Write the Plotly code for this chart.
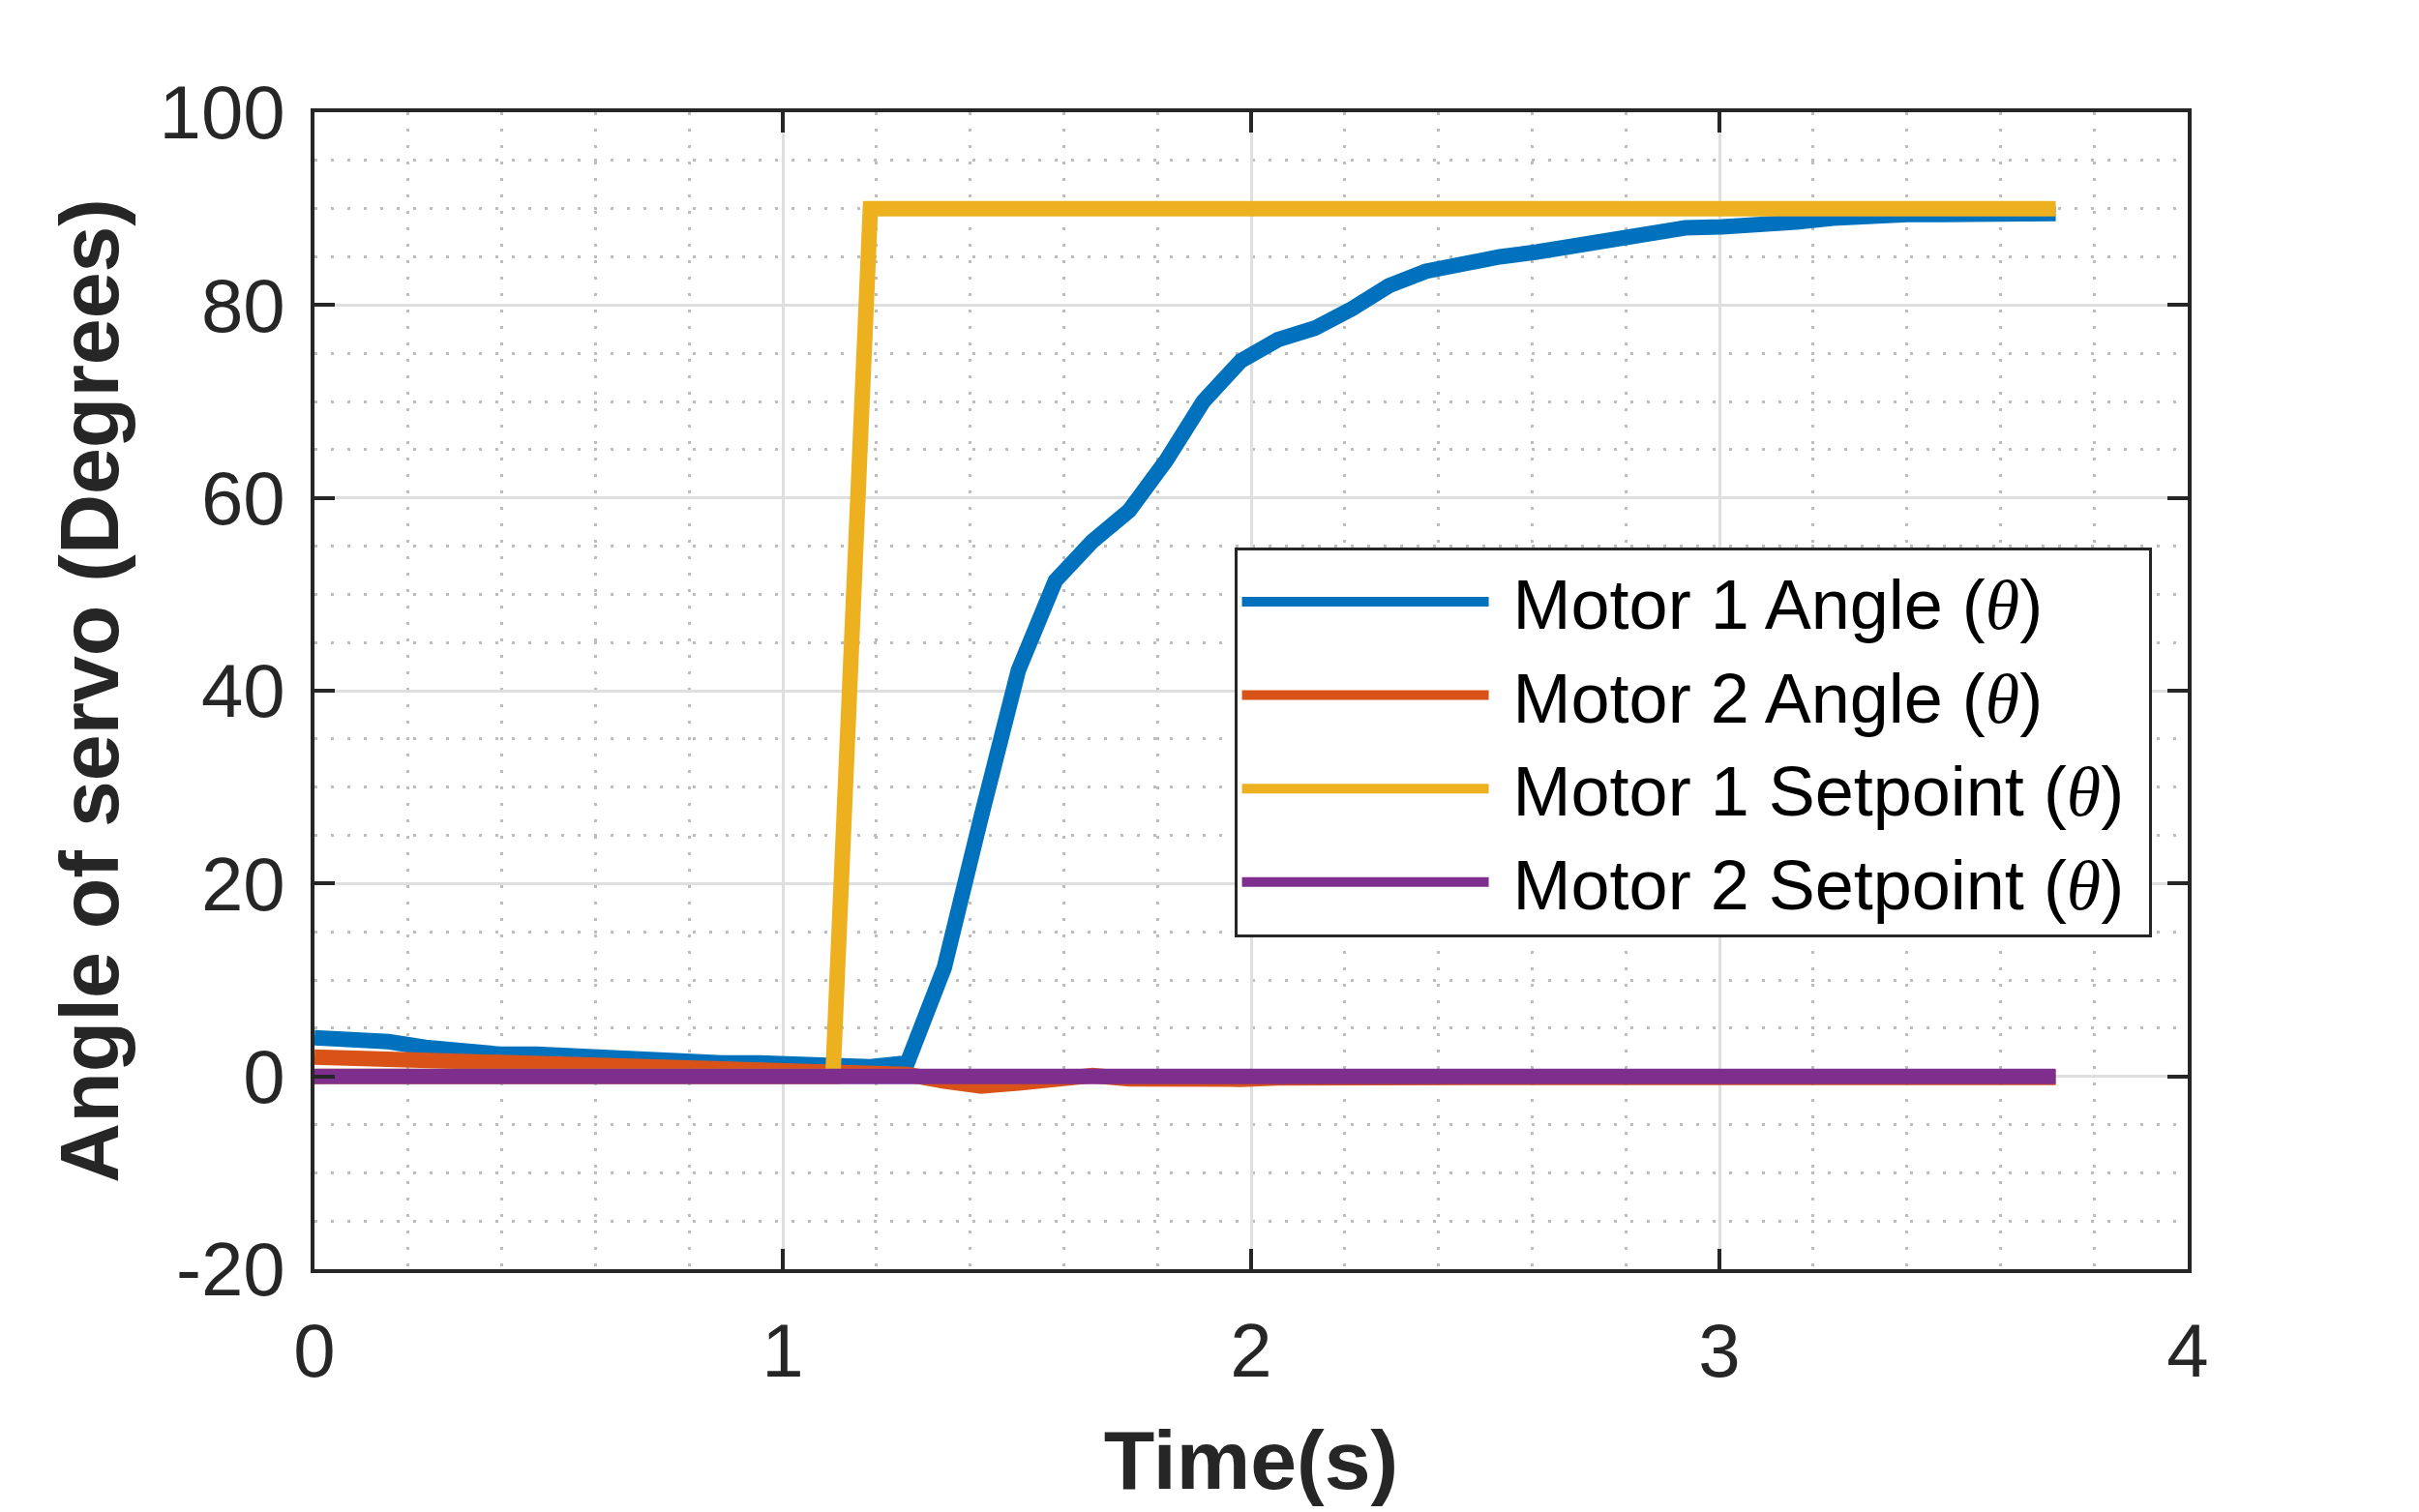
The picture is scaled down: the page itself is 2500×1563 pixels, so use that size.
import plotly.graph_objects as go

# sample times (s)
time_s = [0.000, 0.079, 0.158, 0.237, 0.316, 0.396, 0.475, 0.554, 0.633, 0.712,
          0.791, 0.870, 0.949, 1.028, 1.107, 1.187, 1.266, 1.345, 1.424, 1.503,
          1.582, 1.661, 1.740, 1.819, 1.898, 1.978, 2.057, 2.136, 2.215, 2.294,
          2.373, 2.452, 2.531, 2.610, 2.689, 2.769, 2.848, 2.927, 3.006, 3.085,
          3.164, 3.243, 3.322, 3.401, 3.480, 3.559, 3.638, 3.718]

motor1_angle = [4.0, 4.0, 3.6, 3.0, 2.5, 2.3, 2.3, 2.1, 1.8, 1.5,
                1.4, 1.4, 1.4, 1.3, 1.2, 1.0, 1.4, 11.3, 27.0, 42.1,
                51.4, 55.5, 58.7, 63.9, 70.0, 74.2, 76.4, 77.6, 79.6, 82.0,
                83.5, 84.4, 85.0, 85.5, 86.1, 87.0, 87.6, 88.0, 88.1, 88.2,
                88.6, 89.0, 89.3, 89.4, 89.4, 89.4, 89.5, 89.5]

motor2_angle = [2.0, 1.9, 1.7, 1.5, 1.3, 1.2, 1.1, 1.0, 0.9, 0.8,
                0.8, 0.7, 0.7, 0.6, 0.5, 0.4, 0.2, -0.5, -1.0, -0.7,
                -0.1, 0.1, -0.25, -0.35, -0.45, -0.3, -0.15, -0.1, -0.1, -0.1,
                -0.1, -0.1, -0.1, -0.1, -0.1, -0.1, -0.1, -0.1, -0.1, -0.1,
                -0.1, -0.1, -0.1, -0.1, -0.1, -0.1, -0.1, -0.1]

motor1_setpoint = [0] * 15 + [90] * 33
motor2_setpoint = [0] * 48

series_names = ['Motor 1 Angle', 'Motor 2 Angle', 'Motor 1 Setpoint', 'Motor 2 Setpoint']
series_colors = ['#0072BD', '#D95319', '#EDB120', '#7E2F8E']
series_values = [motor1_angle, motor2_angle, motor1_setpoint, motor2_setpoint]

x_ticks = [0, 1, 2, 3, 4]
y_ticks = [-20, 0, 20, 40, 60, 80, 100]
y_tick_labels = ['-20', '0', '20', '40', '60', '80', '100']

theta = "<span style=\"font-family:'Liberation Serif'\"><i>θ</i></span>"

fig = go.Figure()
for name, color, values in zip(series_names, series_colors, series_values):
    fig.add_trace(go.Scatter(
        x=time_s,
        y=values,
        mode='lines',
        name=f'\u00a0{name} ({theta})\u00a0',
        line=dict(color=color, width=16),
    ))

axis_common = dict(
    showline=True,
    linecolor='#262626',
    linewidth=3.5,
    mirror='ticks',
    ticks='inside',
    ticklen=21,
    tickwidth=3.5,
    tickcolor='#262626',
    tickfont=dict(size=78, color='#262626'),
    showgrid=True,
    gridcolor='#dfdfdf',
    gridwidth=3,
    zeroline=False,
)

fig.update_xaxes(
    **axis_common,
    range=[0, 4],
    tickvals=x_ticks,
    ticklabelstandoff=14,
    minor=dict(dtick=0.2, tick0=0, showgrid=True, gridcolor='#bdbdbd', gridwidth=3, griddash='3px,14px'),
    title=dict(text='<b>Time(s)</b>', font=dict(size=86, color='#262626'), standoff=40),
)
fig.update_yaxes(
    **axis_common,
    range=[-20, 100],
    tickvals=y_ticks,
    ticktext=y_tick_labels,
    ticklabelstandoff=11,
    minor=dict(dtick=5, tick0=0, showgrid=True, gridcolor='#bdbdbd', gridwidth=3, griddash='3px,14px'),
    title=dict(text='<b>Angle of servo (Degrees)</b>', font=dict(size=86, color='#262626'), standoff=14),
)

fig.update_layout(
    width=2500,
    height=1563,
    margin=dict(l=317, r=247, t=108, b=259),
    paper_bgcolor='white',
    plot_bgcolor='white',
    font=dict(family='Liberation Sans, Arial, sans-serif', color='#262626'),
    showlegend=True,
    legend=dict(
        x=0.491,
        y=0.624,
        xanchor='left',
        yanchor='top',
        bgcolor='white',
        bordercolor='#262626',
        borderwidth=3,
        font=dict(size=72, color='black'),
        itemwidth=255,
        traceorder='normal',
    ),
)

fig.write_html('out.html')
